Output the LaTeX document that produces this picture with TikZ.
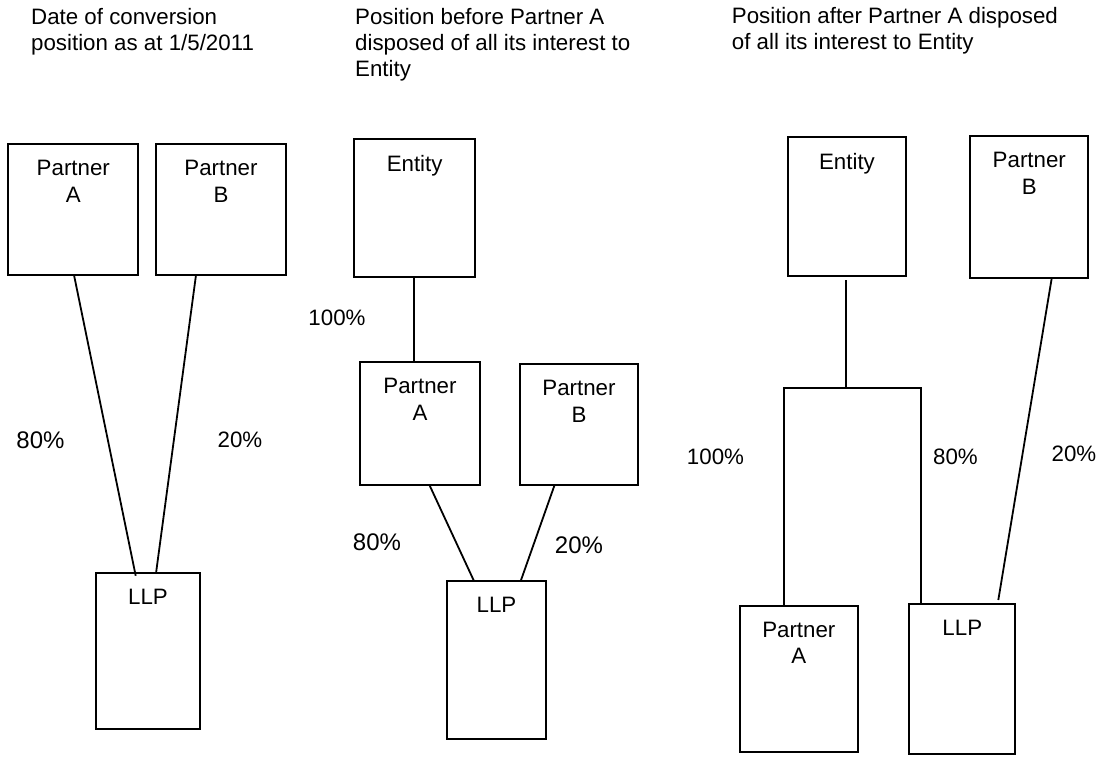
\documentclass[tikz,border=0pt]{standalone}
\usepackage{fontspec}
\setmainfont{Liberation Sans}
\usetikzlibrary{calc}
\begin{document}
\begin{tikzpicture}[x=1pt,y=-1pt,
  box/.style={draw, line width=1.8pt, inner sep=0pt, outer sep=0pt, anchor=north west},
  lbl/.style={anchor=north, yshift=-16pt, inner sep=0pt, align=center, font=\fontsize{22.3}{26.5}\selectfont},
  ttl/.style={anchor=north west, inner sep=0pt, align=left, font=\fontsize{22.3}{25.8}\selectfont},
  pct/.style={inner sep=0pt, font=\fontsize{22.3}{26}\selectfont},
  pctbig/.style={inner sep=0pt, font=\fontsize{24}{28}\selectfont},
  conn/.style={line width=1.8pt}]
\useasboundingbox (0,0) rectangle (1104,756);

% titles
\node[ttl] (t1) at (31,8.6) {Date of conversion\\position as at 1/5/2011};
\node[ttl] (t2) at (355,8.6) {Position before Partner A\\disposed of all its interest to\\Entity};
\node[ttl] (t3) at (731.7,7) {Position after Partner A disposed\\of all its interest to Entity};

% panel 1
\node[box, minimum width=130pt, minimum height=130.7pt, label={[lbl]north:{Partner\\A}}] (pa1) at (8.3,144.3) {};
\node[box, minimum width=130pt, minimum height=130.7pt, label={[lbl]north:{Partner\\B}}] (pb1) at (156,144.3) {};
\node[box, minimum width=104pt, minimum height=155.7pt, label={[lbl]north:{LLP}}] (llp1) at (96,573.3) {};
\draw[conn] ([xshift=65.7pt]pa1.south west) -- ([xshift=39.7pt,yshift=-2.4pt]llp1.north west);
\draw[conn] ([xshift=40pt]pb1.south west) -- ([xshift=60pt]llp1.north west);
\node[pctbig] (p1a) at (40.5,440) {80\%};
\node[pct] (p1b) at (240,440) {20\%};

% panel 2
\node[box, minimum width=120.7pt, minimum height=137.4pt, label={[lbl]north:{Entity}}] (ent2) at (354.3,139.3) {};
\node[box, minimum width=120pt, minimum height=122.4pt, label={[lbl]north:{Partner\\A}}] (pa2) at (360,362.3) {};
\node[box, minimum width=118pt, minimum height=120.4pt, label={[lbl]north:{Partner\\B}}] (pb2) at (520,364.3) {};
\node[box, minimum width=99pt, minimum height=158pt, label={[lbl]north:{LLP}}] (llp2) at (447,581) {};
\draw[conn] ([xshift=59.7pt]ent2.south west) -- ([xshift=54pt]pa2.north west);
\draw[conn] ([xshift=69.3pt]pa2.south west) -- ([xshift=27pt]llp2.north west);
\draw[conn] ([xshift=34.7pt]pb2.south west) -- ([xshift=73.7pt]llp2.north west);
\node[pct] (p2c) at (337,318) {100\%};
\node[pctbig] (p2a) at (377,542.7) {80\%};
\node[pctbig] (p2b) at (579,545.7) {20\%};

% panel 3
\node[box, minimum width=118pt, minimum height=139.3pt, label={[lbl]north:{Entity}}] (ent3) at (788,137) {};
\node[box, minimum width=118pt, minimum height=142pt, label={[lbl]north:{Partner\\B}}] (pb3) at (970.3,136.3) {};
\node[box, minimum width=117.7pt, minimum height=146pt, label={[lbl]north:{Partner\\A}}] (pa3) at (740,605.7) {};
\node[box, minimum width=106pt, minimum height=150.3pt, label={[lbl]north:{LLP}}] (llp3) at (909.3,604) {};
\coordinate (bar) at (845.7,387.7);
\draw[conn] ([xshift=57.7pt,yshift=-3.7pt]ent3.south west) -- (bar);
\draw[conn] ([xshift=44.3pt]pa3.north west) |- (bar) -| ([xshift=11.4pt]llp3.north west);
\draw[conn] ([xshift=81.4pt]pb3.south west) -- ([xshift=89pt,yshift=4pt]llp3.north west);
\node[pct] (p3c) at (715.5,457) {100\%};
\node[pct] (p3a) at (955.5,457) {80\%};
\node[pct] (p3b) at (1074,454) {20\%};
\end{tikzpicture}
\end{document}
